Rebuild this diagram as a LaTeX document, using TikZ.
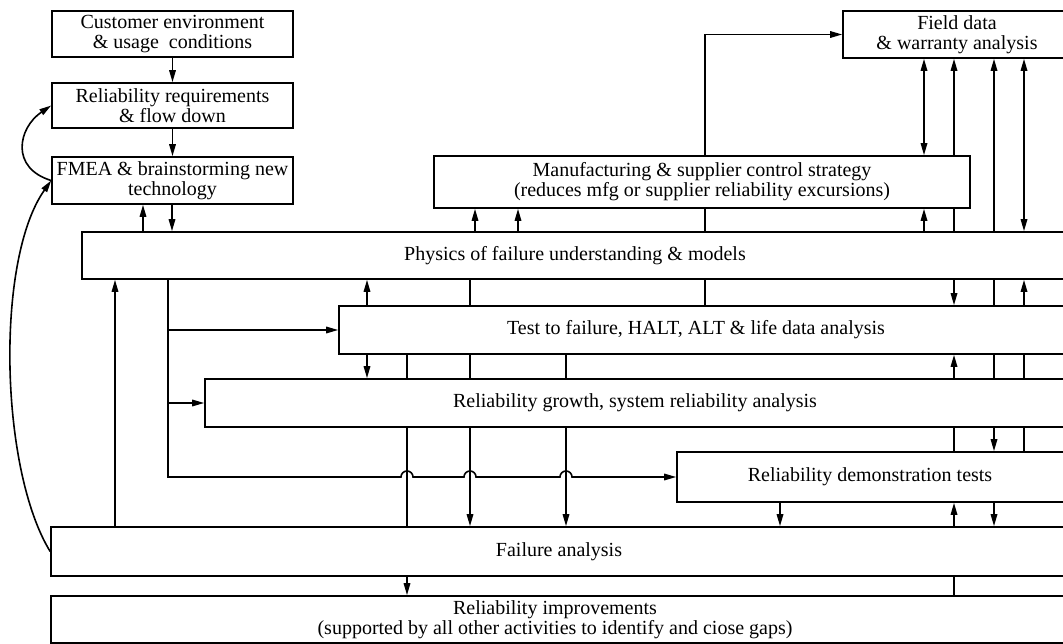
\documentclass[tikz,border=0pt]{standalone}
\usepackage{fontspec}
\setmainfont{Liberation Serif}
\usetikzlibrary{arrows.meta}

\begin{document}
\begin{tikzpicture}[x=1pt, y=-1pt, line width=1.6pt,
    >={Triangle[length=12pt,width=6.5pt]},
    box/.style={draw, fill=white, inner sep=0pt, align=center},
    font=\fontsize{20}{20}\selectfont]
  \useasboundingbox (0,0) rectangle (1063,644);
  \clip (0,0) rectangle (1063,644);

  \node[box, minimum width=241pt, minimum height=46pt] (cust) at (172.5,34) {Customer environment\\\& usage\ \ conditions};
  \node[box, minimum width=241pt, minimum height=45pt] (req) at (172.5,105.5) {Reliability requirements\\\& flow down};
  \node[box, minimum width=241pt, minimum height=47pt] (fmea) at (172.5,180.5) {FMEA \& brainstorming new\\technology};
  \node[box, minimum width=536pt, minimum height=52pt] (manuf) at (702,182) {Manufacturing \& supplier control strategy\\(reduces mfg or supplier reliability excursions)};
  \node[box, minimum width=228pt, minimum height=47pt] (field) at (957,34.5) {Field data\\\& warranty analysis};

  \node[box, minimum width=1018pt, minimum height=47pt] (phys) at (591,255.5) {};
  \node (physlbl) at (575,255.5) {Physics of failure understanding \& models};
  \node[box, minimum width=761pt, minimum height=48pt] (test) at (719.5,330) {};
  \node (testlbl) at (696,330) {Test to failure, HALT, ALT \& life data analysis};
  \node[box, minimum width=895pt, minimum height=48pt] (growth) at (652.5,403) {};
  \node (growthlbl) at (635,403) {Reliability growth, system reliability analysis};
  \node[box, minimum width=423pt, minimum height=50pt] (demo) at (888.5,477) {};
  \node (demolbl) at (870,477) {Reliability demonstration tests};
  \node[box, minimum width=1049pt, minimum height=49pt] (fail) at (575.5,551.5) {};
  \node (faillbl) at (559,551.5) {Failure analysis};
  \node[box, minimum width=1049pt, minimum height=47pt] (impr) at (575.5,619.5) {};
  \node[align=center] (imprlbl) at (555,619.5) {Reliability improvements\\(supported by all other activities to identify and ciose gaps)};

  \draw[->] (cust) -- (req);
  \draw[->] (req) -- (fmea);
  \draw[->] (143,0 |- phys.north) -- (143,0 |- fmea.south);
  \draw[->] (172,0 |- fmea.south) -- (172,0 |- phys.north);
  \draw[->] (fail.west) .. controls (0,470) and (-5,260) .. (fmea.west);
  \draw[->] (fmea.west) .. controls (10,168) and (18,128) .. (req.west);

  \draw[->] (115,0 |- fail.north) -- (115,0 |- phys.south);
  \draw[->] (168,0 |- phys.south) -- (168,0 |- demo.west) -- (401,0 |- demo.west)
    arc[start angle=180, end angle=0, radius=6pt] -- (464,0 |- demo.west)
    arc[start angle=180, end angle=0, radius=6pt] -- (560,0 |- demo.west)
    arc[start angle=180, end angle=0, radius=6pt] -- (demo.west);
  \draw[->] (168,0 |- test.west) -- (test.west);
  \draw[->] (168,0 |- growth.west) -- (growth.west);

  \draw[->] (367,0 |- test.north) -- (367,0 |- phys.south);
  \draw[->] (367,0 |- test.south) -- (367,0 |- growth.north);
  \draw (407,0 |- test.south) -- (407,0 |- growth.north);
  \draw (407,0 |- growth.south) -- (407,0 |- fail.north);
  \draw[->] (407,0 |- fail.south) -- (407,0 |- impr.north);
  \draw (470,0 |- phys.south) -- (470,0 |- test.north);
  \draw (470,0 |- test.south) -- (470,0 |- growth.north);
  \draw[->] (470,0 |- growth.south) -- (470,0 |- fail.north);
  \draw[->] (475,0 |- phys.north) -- (475,0 |- manuf.south);
  \draw[->] (518,0 |- phys.north) -- (518,0 |- manuf.south);
  \draw (566,0 |- test.south) -- (566,0 |- growth.north);
  \draw[->] (566,0 |- growth.south) -- (566,0 |- fail.north);

  \draw (705,0 |- phys.north) -- (705,0 |- manuf.south);
  \draw[->] (705,0 |- manuf.north) |- (field.west);
  \draw (705,0 |- phys.south) -- (705,0 |- test.north);
  \draw[->] (780,0 |- demo.south) -- (780,0 |- fail.north);

  \draw[<->] (924,0 |- manuf.north) -- (924,0 |- field.south);
  \draw[->] (924,0 |- phys.north) -- (924,0 |- manuf.south);

  \draw[->] (954,0 |- manuf.north) -- (954,0 |- field.south);
  \draw (954,0 |- phys.north) -- (954,0 |- manuf.south);
  \draw[->] (954,0 |- phys.south) -- (954,0 |- test.north);
  \draw[->] (954,0 |- growth.north) -- (954,0 |- test.south);
  \draw (954,0 |- growth.south) -- (954,0 |- demo.north);
  \draw[->] (954,0 |- fail.north) -- (954,0 |- demo.south);
  \draw (954,0 |- fail.south) -- (954,0 |- impr.north);

  \draw[->] (994,0 |- phys.north) -- (994,0 |- field.south);
  \draw (994,0 |- phys.south) -- (994,0 |- test.north);
  \draw (994,0 |- test.south) -- (994,0 |- growth.north);
  \draw[->] (994,0 |- growth.south) -- (994,0 |- demo.north);
  \draw[->] (994,0 |- demo.south) -- (994,0 |- fail.north);

  \draw[<->] (1024,0 |- field.south) -- (1024,0 |- phys.north);
  \draw[->] (1024,0 |- test.north) -- (1024,0 |- phys.south);
  \draw (1024,0 |- test.south) -- (1024,0 |- growth.north);
  \draw (1024,0 |- growth.south) -- (1024,0 |- demo.north);
\end{tikzpicture}
\end{document}
